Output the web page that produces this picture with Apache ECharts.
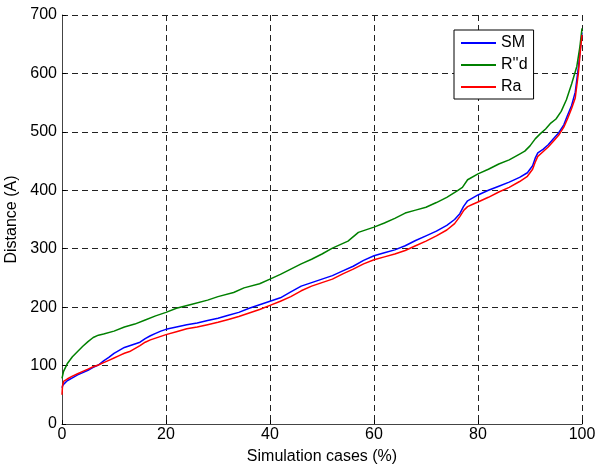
<!DOCTYPE html>
<html>
<head>
<meta charset="utf-8">
<script src="https://cdn.jsdelivr.net/npm/echarts@6/dist/echarts.min.js"></script>
<style>
  html, body { margin: 0; padding: 0; background: #fff; }
  #chart { width: 597px; height: 466px; }
</style>
</head>
<body>
<div id="chart"></div>
<script>
// Distance curves over the share of simulation cases, [percent, distance] pairs
const smData = [
  [0,62],[0.2,67],[1,74],[2,79],[3,84],[4,88],[5,92],[6,97],[7,101],[8,108],[9,114],[10,121],
  [11,126],[12,131],[13,134],[14,137],[15,140],[16,146],[17,151],[18,155],[19,159],[20,162],
  [22,166],[24,170],[26,173],[28,177],[30,181],[32,186],[34,191],[36,198],[38,204],[40,210],
  [42,216],[44,226],[46,236],[48,242],[50,248],[52,254],[54,262],[56,270],[58,280],[60,288],
  [62,293],[64,298],[66,305],[68,314],[70,322],[72,330],[74,340],[75.5,350],[76.5,360],
  [77.2,372],[78,382],[79,387],[80,392],[82,400],[84,407],[86,414],[88,422],[89.5,430],
  [90.5,442],[91,455],[91.5,464],[92.5,470],[93.5,478],[94.5,488],[95.5,498],[96.5,512],
  [97.2,528],[98,545],[98.7,568],[99.3,610],[99.7,645],[100,670]
];
const rdData = [
  [0,78],[0.3,90],[1,103],[2,115],[3,124],[4,133],[5,141],[6,148],[7,152],[8,154],[10,159],
  [12,166],[14,171],[16,178],[18,185],[20,191],[22,198],[25,205],[28,212],[30,218],[33,225],
  [35,233],[38,240],[40,248],[42,256],[44,265],[46,274],[48,282],[50,291],[52,301],[55,313],
  [57,328],[60,337],[62,344],[64,352],[66,361],[68,366],[70,371],[72,379],[74,388],[76,399],
  [77,405],[78,418],[80,428],[82,436],[84,445],[86,452],[88,462],[89,467],[90,476],[91,488],
  [92,497],[93,505],[94,515],[95,522],[96,535],[97,555],[98,582],[99,612],[99.6,646],[100,677]
];
const raData = [
  [0,50],[0.1,65],[0.3,73],[1,77],[2,82],[3,86],[4,90],[5,94],[6,98],[7,101],[8,105],[9,109],
  [10,113],[11,117],[12,121],[13,124],[14,129],[15,134],[16,140],[17,144],[18,147],[19,150],
  [20,153],[22,158],[24,163],[26,166],[28,170],[30,174],[32,179],[34,184],[36,190],[38,196],
  [40,203],[42,210],[44,218],[46,228],[48,236],[50,242],[52,248],[54,257],[56,265],[58,274],
  [60,281],[62,286],[64,291],[66,297],[68,305],[70,313],[72,322],[74,332],[75.5,343],
  [76.5,355],[77.3,366],[78,372],[79,376],[80,380],[82,388],[84,397],[86,405],[88,415],
  [89.5,424],[90.5,436],[91,448],[91.5,458],[92.5,466],[93.5,474],[94.5,484],[95.5,494],
  [96.5,508],[97.2,522],[98,540],[98.7,558],[99.3,600],[99.7,640],[100,666]
];
const seriesNames = ['SM', "R''d", 'Ra'];
const seriesColors = ['#0000ff', '#008000', '#ff0000'];
const xTicks = [0, 20, 40, 60, 80, 100];
const yTicks = [0, 100, 200, 300, 400, 500, 600, 700];

const FONT = 'Liberation Sans, Arial, Helvetica, sans-serif';
const FS = 16;
const chart = echarts.init(document.getElementById('chart'), null, { renderer: 'canvas' });

const gridLine = { show: true, lineStyle: { color: '#222', width: 1, type: [6, 4] } };

chart.setOption({
  animation: false,
  backgroundColor: '#fff',
  textStyle: { fontFamily: FONT },
  grid: { left: 62, right: 15, top: 15, bottom: 42, containLabel: false, outerBoundsMode: 'none' },
  legend: {
    orient: 'vertical',
    left: 454,
    top: 30,
    data: seriesNames,
    icon: 'rect',
    itemWidth: 35,
    itemHeight: 2,
    itemGap: 6,
    padding: [5, 6, 4, 7],
    borderColor: '#000',
    borderWidth: 1,
    backgroundColor: '#fff',
    textStyle: { fontFamily: FONT, fontSize: FS, lineHeight: 16, color: '#000' }
  },
  xAxis: {
    type: 'value',
    min: xTicks[0],
    max: xTicks[xTicks.length - 1],
    interval: xTicks[1] - xTicks[0],
    name: 'Simulation cases (%)',
    nameLocation: 'middle',
    nameGap: 25,
    nameTextStyle: { fontFamily: FONT, fontSize: FS, color: '#000' },
    axisLine: { show: true, onZero: false, lineStyle: { color: '#444', width: 1 } },
    axisTick: { show: true, inside: true, length: 4, lineStyle: { color: '#000' } },
    axisLabel: { fontFamily: FONT, fontSize: FS, color: '#000', margin: 3 },
    splitLine: gridLine
  },
  yAxis: {
    type: 'value',
    min: yTicks[0],
    max: yTicks[yTicks.length - 1],
    interval: yTicks[1] - yTicks[0],
    name: 'Distance (A)',
    nameLocation: 'middle',
    nameGap: 36,
    nameTextStyle: { fontFamily: FONT, fontSize: FS, color: '#000' },
    axisLine: { show: true, onZero: false, lineStyle: { color: '#444', width: 1 } },
    axisTick: { show: true, inside: true, length: 4, lineStyle: { color: '#000' } },
    axisLabel: { fontFamily: FONT, fontSize: FS, color: '#000', margin: 5 },
    splitLine: gridLine
  },
  series: [smData, rdData, raData].map((d, i) => ({
    name: seriesNames[i],
    type: 'line',
    data: d,
    showSymbol: false,
    symbol: 'none',
    color: seriesColors[i],
    lineStyle: { color: seriesColors[i], width: 1.5 },
    itemStyle: { color: seriesColors[i] }
  }))
});
</script>
</body>
</html>
